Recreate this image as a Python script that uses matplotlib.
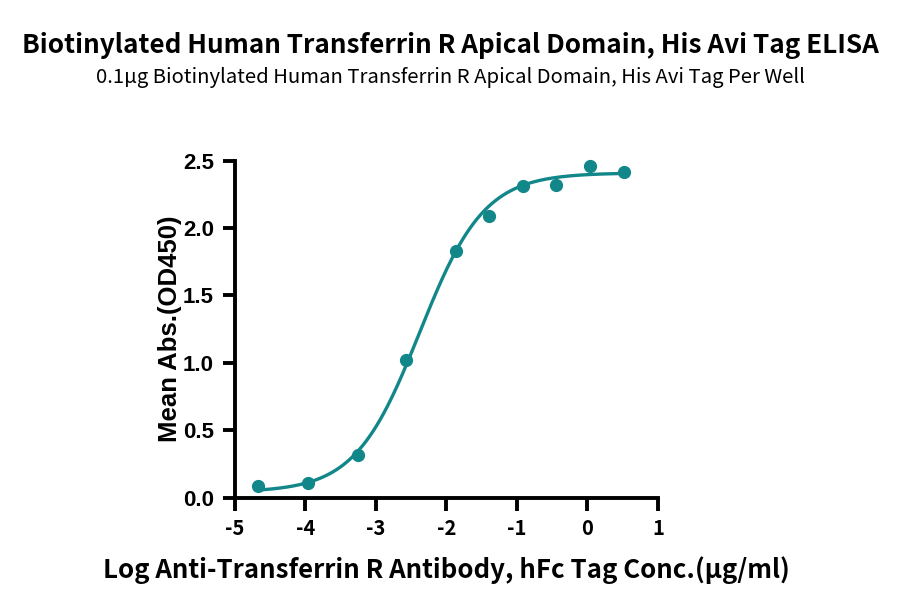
import numpy as np
import matplotlib
matplotlib.use('Agg')
import matplotlib.pyplot as plt

# data
log_conc = [-4.67, -3.96, -3.26, -2.57, -1.87, -1.39, -0.91, -0.44, 0.04, 0.52]
mean_abs = [0.089, 0.111, 0.317, 1.02, 1.83, 2.09, 2.31, 2.32, 2.46, 2.42]

# 4PL fit parameters (estimated from the drawn curve)
fit_bottom = 0.04
fit_top = 2.41
fit_logec50 = -2.38
fit_hill = 0.95
fit_range = [-4.62, 0.52]

x_ticks = [-5, -4, -3, -2, -1, 0, 1]
y_ticks = [0.0, 0.5, 1.0, 1.5, 2.0, 2.5]

title = 'Biotinylated Human Transferrin R Apical Domain, His Avi Tag ELISA'
subtitle = '0.1\u00b5g Biotinylated Human Transferrin R Apical Domain, His Avi Tag Per Well'
xlabel = 'Log Anti-Transferrin R Antibody, hFc Tag Conc.(\u00b5g/ml)'
ylabel = 'Mean Abs.(OD450)'

TEAL = '#12878a'
SRC = ['Noto Sans CJK SC', 'DejaVu Sans']
ARIAL = ['Liberation Sans', 'DejaVu Sans']

fig = plt.figure(figsize=(9, 6.09), dpi=100)
ax = fig.add_axes([0.261, 0.183, 0.470, 0.553])

xs = np.linspace(fit_range[0], fit_range[1], 300)
ys = fit_bottom + (fit_top - fit_bottom) / (1 + 10 ** (fit_hill * (fit_logec50 - xs)))
ax.plot(xs, ys, color=TEAL, lw=2.4, clip_on=False, zorder=2)
ax.plot(log_conc, mean_abs, 'o', color=TEAL, ms=8.5, clip_on=False, zorder=3)

ax.set_xlim(-5, 1)
ax.set_ylim(0, 2.5)
ax.set_xticks(x_ticks)
ax.set_xticklabels([str(t) for t in x_ticks], family=SRC, fontweight='bold', fontsize=14.5)
ax.set_yticks(y_ticks)
ax.set_yticklabels(['%.1f' % t for t in y_ticks], family=ARIAL, fontweight='bold', fontsize=16)

for s in ['top', 'right']:
    ax.spines[s].set_visible(False)
for s in ['left', 'bottom']:
    ax.spines[s].set_linewidth(2.8)
ax.tick_params(width=2.8, length=9, direction='out', pad=6)

ax.set_xlabel(xlabel, family=SRC, fontweight='bold', fontsize=18.6, labelpad=12)
ax.set_ylabel(ylabel, family=ARIAL, fontweight='bold', fontsize=18.5, labelpad=1)

fig.text(0.5, 0.925, title, ha='center', va='center', family=SRC, fontweight='bold', fontsize=18.8)
fig.text(0.5, 0.872, subtitle, ha='center', va='center', family=SRC, fontweight='light', fontsize=14.6)

fig.savefig('out.png', dpi=100)
